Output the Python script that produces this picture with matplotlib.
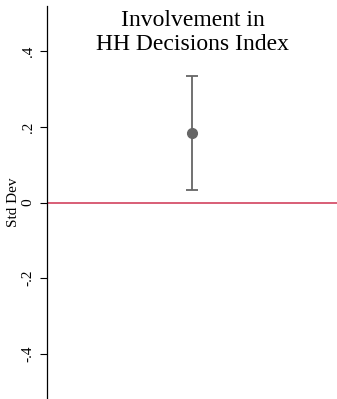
import matplotlib.pyplot as plt

plt.rcParams['font.family'] = ['Liberation Serif', 'DejaVu Serif']

# point estimate and 95% CI, in std dev units
est = [0.185]
ci_lo = [0.034]
ci_hi = [0.334]
xpos = [1]
yticks = [-0.4, -0.2, 0, 0.2, 0.4]
ylabels = ['-.4', '-.2', '0', '.2', '.4']

fig = plt.figure(figsize=(3.37, 3.99), dpi=100)
ax = fig.add_axes([47/337, 0, 290/337, 393/399])

err = [[e - l for e, l in zip(est, ci_lo)], [h - e for e, h in zip(est, ci_hi)]]
ax.errorbar(xpos, est, yerr=err, fmt='o', color='#666666', ecolor='#666666',
            elinewidth=1.3, capsize=4, capthick=1.3, markersize=7)
ax.axhline(0, color='#d6506b', lw=1.3)

ax.set_xlim(0, 2)
ax.set_ylim(-0.52, 0.52)
ax.set_yticks(yticks)
ax.set_yticklabels(ylabels, rotation=90, va='center', fontsize=11)
ax.set_xticks([])
ax.set_ylabel('Std Dev', fontsize=11, labelpad=1)
for s in ['top', 'right', 'bottom']:
    ax.spines[s].set_visible(False)
ax.spines['left'].set_linewidth(0.9)
ax.tick_params(axis='y', length=5, width=0.8, pad=4)

ax.text(0.502, 0.990, 'Involvement in\nHH Decisions Index', transform=ax.transAxes,
        ha='center', va='top', fontsize=17, linespacing=1.2)

fig.savefig('out.png', dpi=100)
